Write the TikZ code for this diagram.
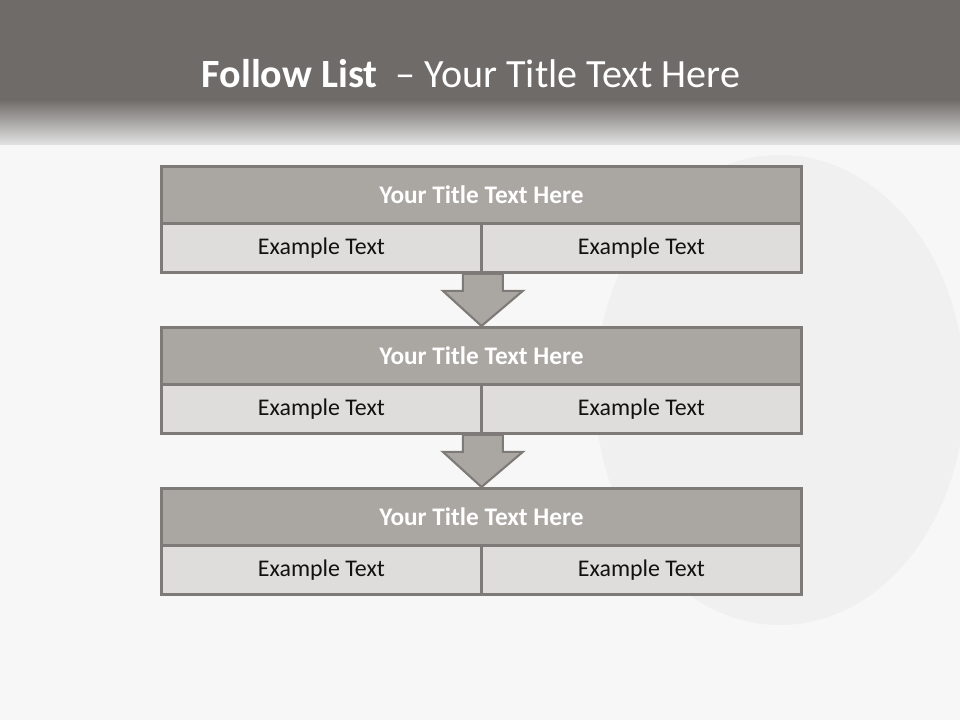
\documentclass[tikz,border=0pt]{standalone}
\usepackage{fontspec}
\setmainfont{Carlito}
\usetikzlibrary{calc,positioning}
\definecolor{cBand}{HTML}{6F6B68}
\definecolor{cPage}{HTML}{F7F7F7}
\definecolor{cHead}{HTML}{AAA6A2}
\definecolor{cCell}{HTML}{DEDDDB}
\definecolor{cEdge}{HTML}{7E7A77}
\definecolor{cInk}{HTML}{111111}
\definecolor{cGhost}{HTML}{F0F0F0}
\tikzset{
  headrow/.style={draw=cEdge,fill=cHead,line width=2pt,anchor=north west,minimum width=16cm,minimum height=1.425cm,
    inner sep=0pt,text=white,font=\fontsize{18pt}{21pt}\selectfont\bfseries},
  cellbox/.style={draw=cEdge,fill=cCell,line width=2pt,anchor=north west,minimum width=8cm,minimum height=1.225cm,
    inner sep=0pt,text=cInk,font=\fontsize{17pt}{20pt}\selectfont},
  downarr/.style={draw=cEdge,fill=cHead,line width=1.5pt,line join=miter},
}
\begin{document}
\begin{tikzpicture}[x=0.025cm,y=-0.025cm]
  \useasboundingbox (0,0) rectangle (960,720);
  % page and title band
  \fill[cPage] (0,0) rectangle (960,720);
  \fill[cGhost] (780,390) ellipse[x radius=185,y radius=235];
  \fill[cBand] (0,0) rectangle (960,100);
  \shade[top color=cBand,bottom color=cPage!92!black] (0,99.5) rectangle (960,145);
  \node[font=\fontsize{28.5pt}{32pt}\selectfont,text=white] (ttl) at (471,74)
    {\textbf{Follow List}~~– Your Title Text Here};
  % three blocks
  \foreach \i/\y in {1/165,2/326,3/487}{
    \node[headrow] (h\i) at (160,\y) {Your Title Text Here};
    \node[cellbox] (l\i) at (160,\y+57) {Example Text};
    \node[cellbox] (r\i) at (480,\y+57) {Example Text};
  }
  % block arrows
  \foreach \a/\b in {1/2,2/3}{
    \draw[downarr] ($(l\a.south east)+(-20,0)$) -- ++(0,17) -- ++(-20,0) -- (h\b.north)
      -- ($(l\a.south east)+(40,17)$) -- ++(-20,0) -- ($(l\a.south east)+(20,0)$) -- cycle;
  }
\end{tikzpicture}
\end{document}
